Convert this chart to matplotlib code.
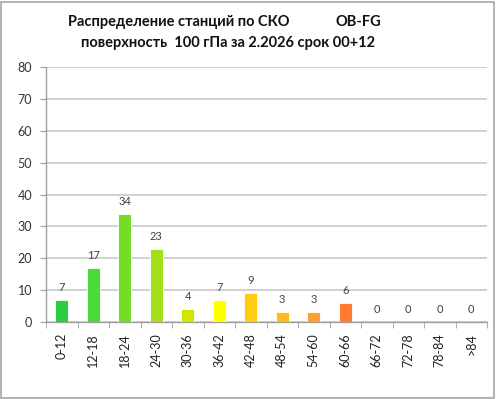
import matplotlib
matplotlib.use("Agg")
import matplotlib.pyplot as plt
from matplotlib.patches import Rectangle

categories = ["0-12", "12-18", "18-24", "24-30", "30-36", "36-42", "42-48",
              "48-54", "54-60", "60-66", "66-72", "72-78", "78-84", ">84"]
values = [7, 17, 34, 23, 4, 7, 9, 3, 3, 6, 0, 0, 0, 0]
colors = ["#2ecc40", "#4cd93a", "#75dd25", "#a3e01a", "#d2e600", "#ffff00",
          "#ffcc10", "#ffbb20", "#ffa030", "#ff7c30", "#ff6030", "#ff5030",
          "#ff4030", "#ff3030"]
title1 = "Распределение станций по СКО"
title1b = "OB-FG"
title2 = "поверхность  100 гПа за 2.2026 срок 00+12"
yticks = [0, 10, 20, 30, 40, 50, 60, 70, 80]

plt.rcParams['font.family'] = ['Lato', 'DejaVu Sans']

W, H = 496, 399
fig = plt.figure(figsize=(W / 100, H / 100), dpi=100)
fig.patch.set_facecolor("white")
fig.add_artist(Rectangle((0.5 / W, 1.5 / H), (W - 2.5) / W, (H - 3) / H,
                         transform=fig.transFigure, fill=False,
                         edgecolor="#a6a6a6", lw=1.2))

ax = fig.add_axes([46 / W, 1 - 322 / H, (487 - 46) / W, (322 - 67) / H])
x = list(range(len(categories)))
ax.bar(x, values, width=0.42, color=colors, edgecolor="white", linewidth=0.6, zorder=3)
for xi, v in zip(x, values):
    ax.text(xi, v + 2.2, str(v), ha="center", va="bottom", fontsize=8, color="#404040")

ax.set_xlim(-0.5, len(categories) - 0.5)
ax.set_ylim(0, 80)
ax.set_yticks(yticks)
ax.set_yticklabels([str(t) for t in yticks], fontsize=9, color="#333333")
ax.yaxis.grid(True, color="#c8c8c8", lw=1.2, zorder=0)
ax.set_axisbelow(True)

ax.set_xticks(x)
ax.set_xticklabels(categories, rotation=90, fontsize=9, color="#222222")
ax.tick_params(axis="x", length=0, pad=8)
ax.set_xticks([i - 0.5 for i in range(len(categories) + 1)], minor=True)
ax.tick_params(axis="x", which="minor", length=4, color="#a0a0a0", direction="out")
ax.tick_params(axis="y", length=4, color="#a0a0a0", direction="out", pad=6)

for s in ["top", "right"]:
    ax.spines[s].set_visible(False)
for s in ["left", "bottom"]:
    ax.spines[s].set_color("#a0a0a0")
    ax.spines[s].set_linewidth(1)

fig.text(68 / W, 1 - 22 / H, title1, ha="left", va="center", fontsize=10.5,
         fontweight="bold", color="#111111")
fig.text(335 / W, 1 - 22 / H, title1b, ha="left", va="center", fontsize=10.5,
         fontweight="bold", color="#111111")
fig.text(228 / W, 1 - 43 / H, title2, ha="center", va="center", fontsize=10.5,
         fontweight="bold", color="#111111")

fig.savefig("out.png", dpi=100, facecolor="white")
